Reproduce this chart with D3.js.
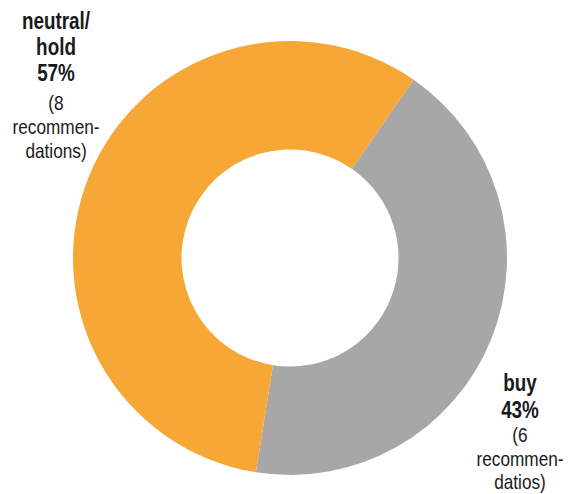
<!DOCTYPE html>
<html>
<head>
<meta charset="utf-8">
<script src="https://cdn.jsdelivr.net/npm/d3@7"></script>
<style>
  html, body { margin: 0; padding: 0; background: #fff; }
  text { font-family: "Liberation Sans Narrow", "Arial Narrow", "Liberation Sans", sans-serif; fill: #1a1a1a; }
</style>
</head>
<body>
<div id="viz"></div>
<script>
var width  = 568;
var height = 494;

// data
var categories = ["buy", "neutral/hold"];
var counts     = [6, 8];
var percents   = ["43%", "57%"];
var heads      = [["buy"], ["neutral/", "hold"]];
var notes      = [["(6", "recommen-", "datios)"], ["(8", "recommen-", "dations)"]];
var colors     = ["#A7A7A7", "#F6A735"];

var cx = 290, cy = 258;
var outerR = 217, innerR = 108.5;
var start = 34.75 / 180 * Math.PI;

var svg = d3.select("#viz").append("svg")
  .attr("width", width)
  .attr("height", height);

var pie = d3.pie()
  .sort(null)
  .startAngle(start)
  .endAngle(start + 2 * Math.PI)
  .value(function(d){ return d; });

var arc = d3.arc()
  .innerRadius(innerR)
  .outerRadius(outerR);

var color = d3.scaleOrdinal().domain(categories).range(colors);

svg.append("g")
  .attr("transform", "translate(" + cx + "," + cy + ")")
  .selectAll("path")
  .data(pie(counts))
  .enter().append("path")
  .attr("d", arc)
  .attr("fill", function(d, i){ return color(categories[i]); });

// narrow font is not installed, so squeeze the regular one
var squeeze = 0.82;

function addLine(g, x, y, t, size, bold){
  g.append("text")
    .attr("transform", "translate(" + x + "," + y + ") scale(" + squeeze + ",1)")
    .attr("font-size", size)
    .attr("font-weight", bold ? "bold" : "normal")
    .text(t);
}

// label blocks: x center, first baseline, first note baseline
var labelPos = [
  { x: 520, y: 391, ny: 442, boldStep: 27, step: 23.5 },
  { x: 56,  y: 29,  ny: 110, boldStep: 26, step: 24 }
];

categories.forEach(function(c, i){
  var p = labelPos[i];
  var g = svg.append("g").attr("text-anchor", "middle");
  var lines = heads[i].concat([percents[i]]);
  lines.forEach(function(t, j){
    addLine(g, p.x, p.y + j * p.boldStep, t, 23, true);
  });
  notes[i].forEach(function(t, j){
    addLine(g, p.x, p.ny + j * p.step, t, 21, false);
  });
});
</script>
</body>
</html>
